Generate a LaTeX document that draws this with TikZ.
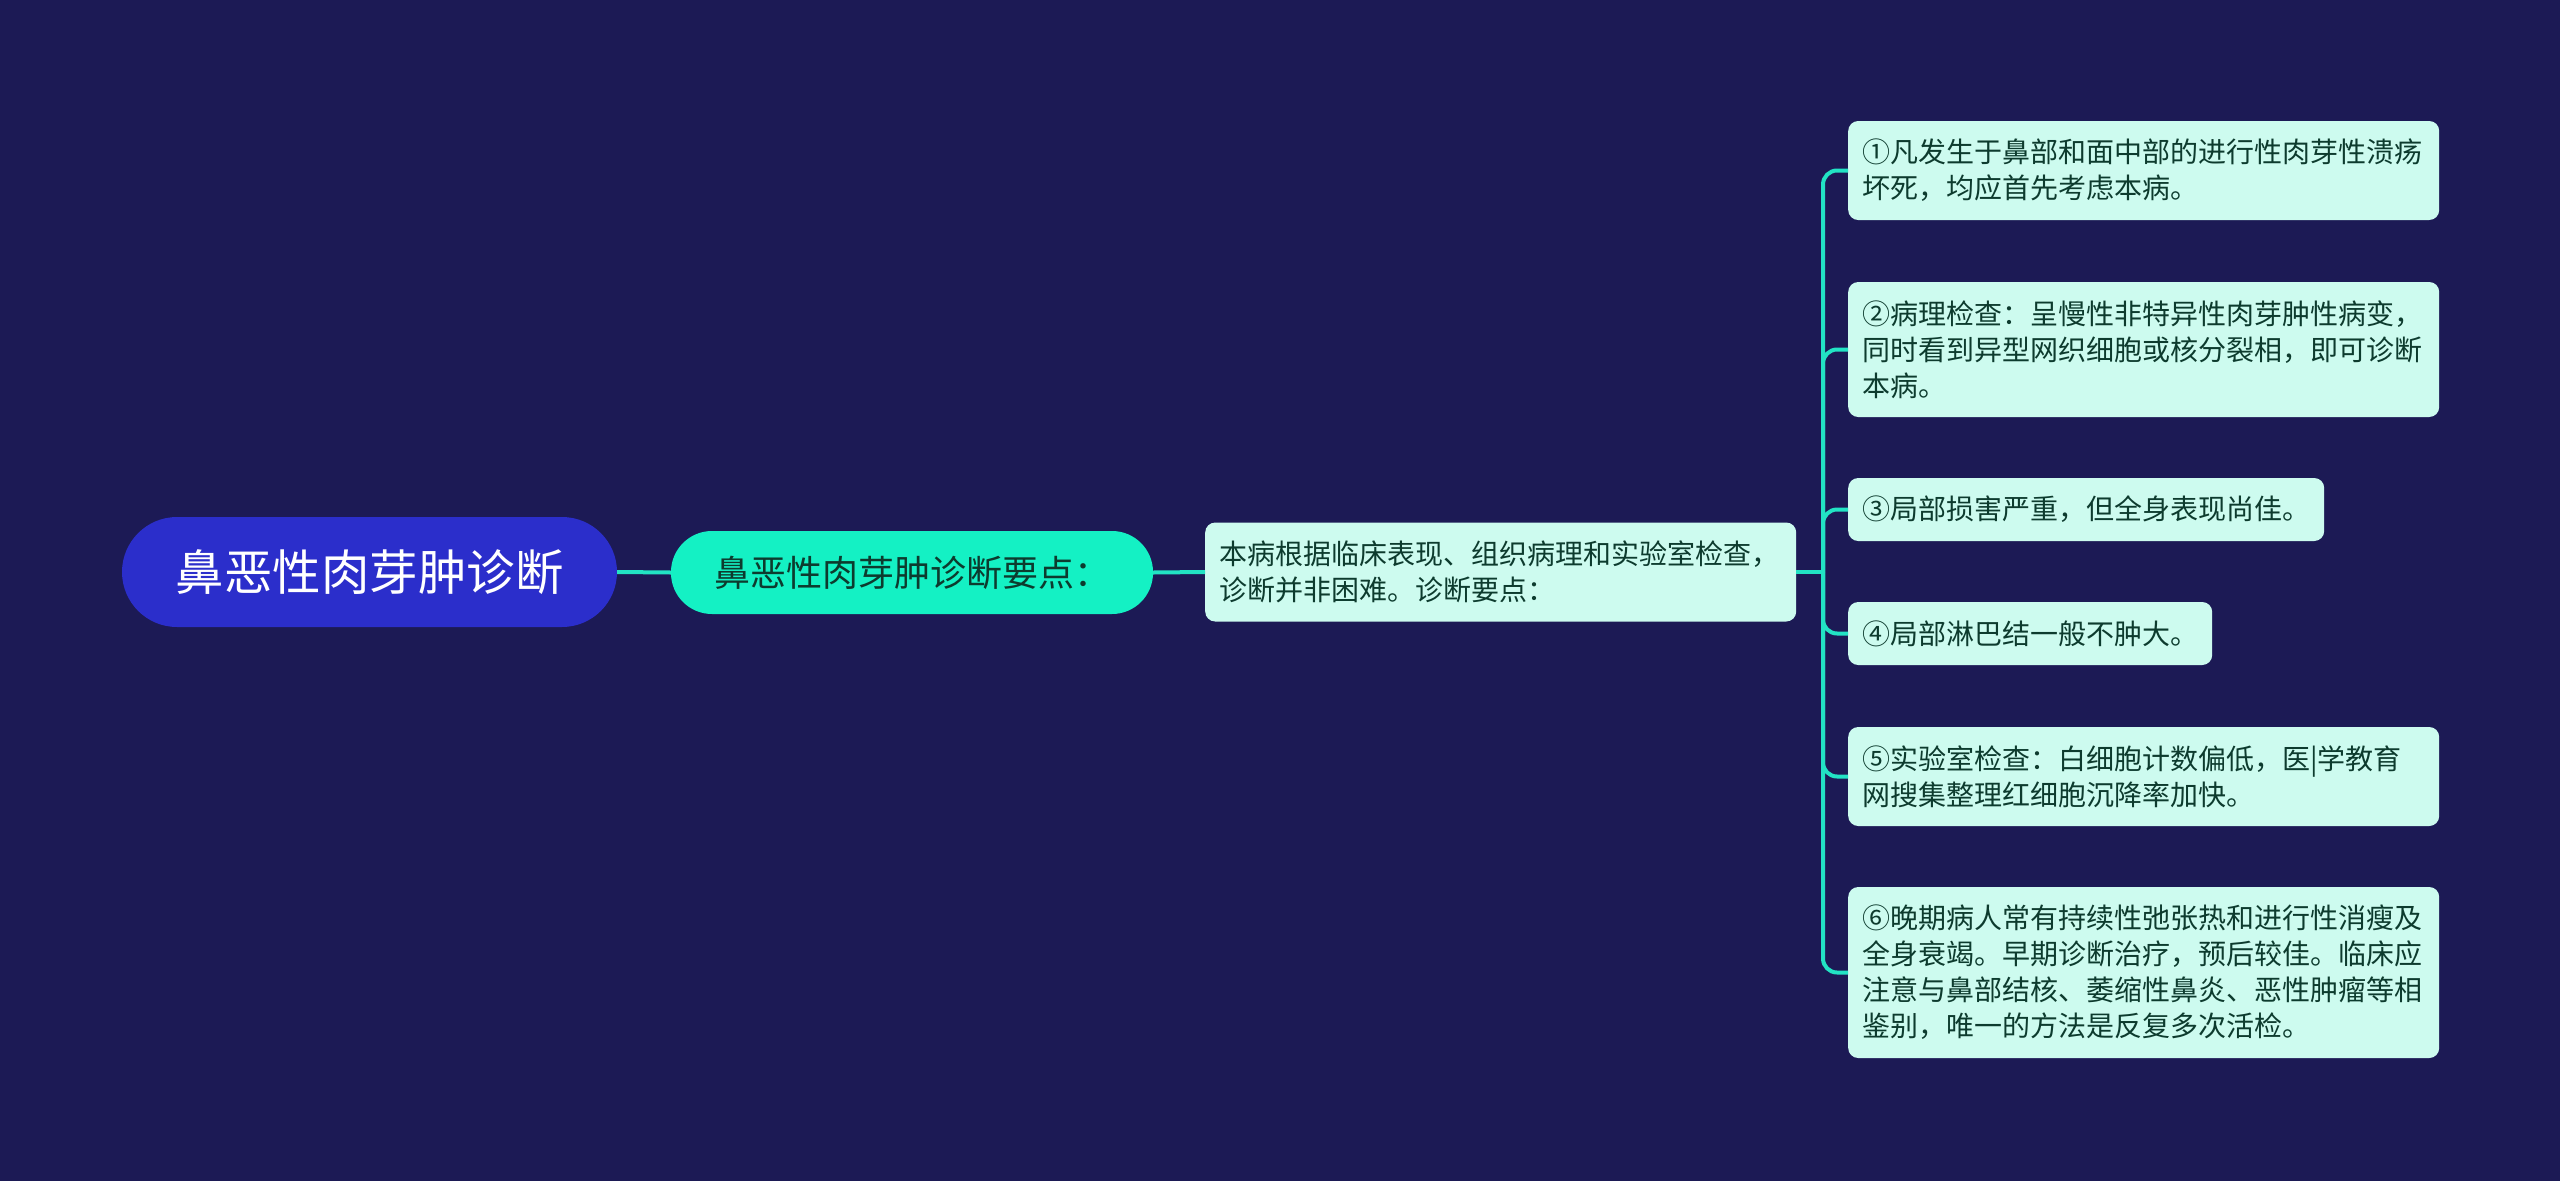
\documentclass[tikz,border=0pt]{standalone}
\usepackage{fontspec}
\setmainfont{Noto Sans CJK SC}
\definecolor{bg}{HTML}{1C1A55}
\definecolor{rootfill}{HTML}{2B2ECB}
\definecolor{mainfill}{HTML}{14F1C4}
\definecolor{leaffill}{HTML}{CDFBEF}
\definecolor{darktext}{HTML}{0D3B2E}
\definecolor{linkcol}{HTML}{22E3C4}
\begin{document}
\begin{tikzpicture}[x=1pt,y=-1pt,
  rootbox/.style={fill=rootfill, text=white, rounded corners=55pt, minimum width=495pt, minimum height=110pt, inner sep=0pt, font=\fontsize{48.5}{58}\selectfont},
  mainbox/.style={fill=mainfill, text=darktext, rounded corners=41pt, minimum width=482pt, minimum height=83pt, inner sep=0pt, font=\fontsize{36}{43}\selectfont},
  leafbox/.style={fill=leaffill, text=darktext, rounded corners=10pt, inner xsep=14pt, inner ysep=0pt, align=left, anchor=west, font=\fontsize{28}{36}\selectfont},
  wide/.style={text width=563pt},
  link/.style={draw=linkcol, line width=4pt}
]
\fill[bg] (0,0) rectangle (2560,1181);
\useasboundingbox (0,0) rectangle (2560,1181);

\node[rootbox] (root) at (369.5,572) {鼻恶性肉芽肿诊断};
\node[mainbox] (main) at (912,572.5) {鼻恶性肉芽肿诊断要点：};
\node[leafbox, wide, minimum height=99pt] (sum) at (1205,572) {本病根据临床表现、组织病理和实验室检查，\\诊断并非困难。诊断要点：};

\node[leafbox, wide, minimum height=99pt] (l1) at (1848,170.5) {①凡发生于鼻部和面中部的进行性肉芽性溃疡\\坏死，均应首先考虑本病。};
\node[leafbox, wide, minimum height=135pt] (l2) at (1848,349.5) {②病理检查：呈慢性非特异性肉芽肿性病变，\\同时看到异型网织细胞或核分裂相，即可诊断\\本病。};
\node[leafbox, minimum height=63pt] (l3) at (1848,509.5) {③局部损害严重，但全身表现尚佳。};
\node[leafbox, minimum height=63pt] (l4) at (1848,633.5) {④局部淋巴结一般不肿大。};
\node[leafbox, wide, minimum height=99pt] (l5) at (1848,776.5) {⑤实验室检查：白细胞计数偏低，医|学教育\\网搜集整理红细胞沉降率加快。};
\node[leafbox, wide, minimum height=171pt] (l6) at (1848,972.5) {⑥晚期病人常有持续性弛张热和进行性消瘦及\\全身衰竭。早期诊断治疗，预后较佳。临床应\\注意与鼻部结核、萎缩性鼻炎、恶性肿瘤等相\\鉴别，唯一的方法是反复多次活检。};

\coordinate (hub) at (1823,572);
\draw[link] (root.east) -- (main.west);
\draw[link] (main.east) -- (sum.west);
\draw[link] (sum.east) -- (hub);
\foreach \n in {l1,l2,l3,l4,l5,l6}
  \draw[link, rounded corners=14pt] (hub) |- (\n.west);
\end{tikzpicture}
\end{document}
